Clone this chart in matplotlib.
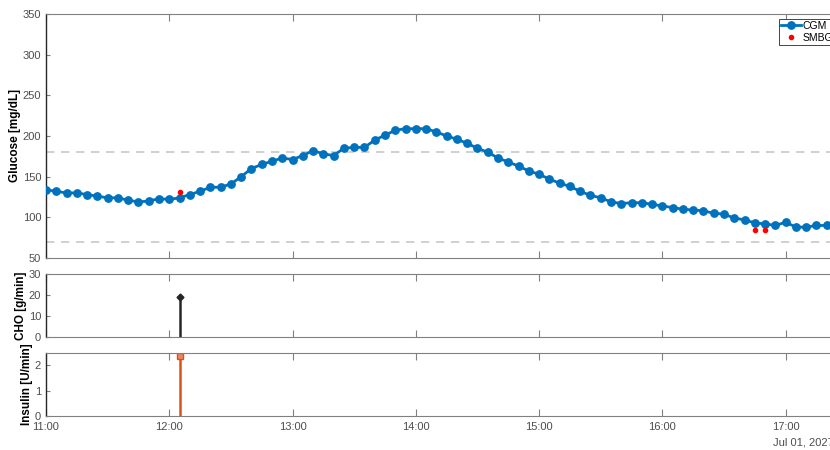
#!/usr/bin/env python3
"""Glucose / CHO / insulin timeline for a single day (CGM every 5 min)."""

import matplotlib
matplotlib.use("Agg")
import matplotlib.pyplot as plt
import matplotlib.dates as mdates
import pandas as pd

plt.rcParams.update({
    "font.family": ["Liberation Sans", "DejaVu Sans"],
    "font.size": 8,
    "axes.linewidth": 0.8,
    "xtick.direction": "in",
    "ytick.direction": "in",
})

# CGM readings, 5-minute grid starting 11:00
cgm_mgdl = [
    134, 132, 130, 130, 128, 126, 124, 124, 121, 119, 120, 123,
    122, 124, 128, 132, 137, 137, 141, 150, 160, 165, 169, 173,
    171, 176, 182, 178, 176, 185, 186, 186, 195, 201, 207, 209,
    209, 209, 205, 200, 196, 191, 185, 180, 173, 168, 163, 157,
    153, 147, 142, 138, 132, 127, 124, 119, 117, 118, 118, 116,
    114, 112, 110, 109, 108, 105, 104, 99, 97, 93, 92, 90,
    94, 88, 88, 90, 90, 90,
]
cgm_time = pd.date_range("2027-07-01 11:00", periods=len(cgm_mgdl), freq="5min")

# fingerstick checks
smbg_time = pd.to_datetime(["2027-07-01 12:05", "2027-07-01 16:45", "2027-07-01 16:50"])
smbg_mgdl = [131, 84, 84]

# meal and bolus
cho_time = pd.to_datetime(["2027-07-01 12:05"])
cho_gmin = [19]
ins_time = pd.to_datetime(["2027-07-01 12:05"])
ins_umin = [2.37]

hypo_thr, hyper_thr = 70, 180
t_start = pd.Timestamp("2027-07-01 11:00")
t_end = pd.Timestamp("2027-07-01 17:25")

W, H = 830, 450
LEFT, RIGHT = 46, 837
fig = plt.figure(figsize=(W / 100, H / 100), dpi=100)


def px_axes(top, bottom):
    return fig.add_axes([LEFT / W, 1 - bottom / H, (RIGHT - LEFT) / W, (bottom - top) / H])


def xfrac(px):
    return (px - LEFT) / (RIGHT - LEFT)


ax_g = px_axes(14, 258)
ax_c = px_axes(274.3, 337.3)
ax_i = px_axes(353.3, 416)

blue = "#0072BD"
orange = "#D95319"
dark = "#262626"

ax_g.axhline(hyper_thr, color="#c8c8c8", linestyle=(0, (5, 4)), linewidth=1.2, zorder=1)
ax_g.axhline(hypo_thr, color="#c8c8c8", linestyle=(0, (5, 4)), linewidth=1.2, zorder=1)
ax_g.plot(cgm_time, cgm_mgdl, color=blue, linewidth=2.0, marker="o", markersize=5.3,
          label="CGM", zorder=3)
ax_g.plot(smbg_time, smbg_mgdl, linestyle="none", marker="o", color="red", markersize=3.0,
          label="SMBG", zorder=4)
ax_g.set_ylim(50, 350)
ax_g.set_yticks(range(50, 351, 50))
ax_g.set_ylabel("Glucose [mg/dL]", fontweight="bold", fontsize=8.5)
ax_g.yaxis.set_label_coords(xfrac(21), 0.5)
leg = ax_g.legend(loc="upper left", bbox_to_anchor=(xfrac(779), 1 - 5 / 244), fontsize=7.5,
                  frameon=True, fancybox=False, edgecolor="#262626", framealpha=1,
                  borderpad=0.2, handlelength=1.9, handletextpad=0.2, labelspacing=0.15,
                  borderaxespad=0)
leg.get_frame().set_linewidth(0.6)

ml, sl, bl = ax_c.stem(cho_time, cho_gmin, basefmt=" ")
plt.setp(sl, color=dark, linewidth=1.8)
plt.setp(ml, color=dark, marker="D", markersize=3.5)
ax_c.set_ylim(0, 30)
ax_c.set_yticks([0, 10, 20, 30])
ax_c.set_ylabel("CHO [g/min]", fontweight="bold", fontsize=8.5)
ax_c.yaxis.set_label_coords(xfrac(27), 0.5)

ml, sl, bl = ax_i.stem(ins_time, ins_umin, basefmt=" ")
plt.setp(sl, color=orange, linewidth=1.8)
plt.setp(ml, color=orange, marker="s", markersize=4, markerfacecolor="#e8866a")
ax_i.set_ylim(0, 2.46)
ax_i.set_yticks([0, 1, 2])
ax_i.set_ylabel("Insulin [U/min]", fontweight="bold", fontsize=8.5)
ax_i.yaxis.set_label_coords(xfrac(33), 0.5)

for ax in (ax_g, ax_c, ax_i):
    ax.set_xlim(t_start, t_end)
    ax.xaxis.set_major_locator(mdates.HourLocator())
    ax.xaxis.set_major_formatter(mdates.DateFormatter("%H:%M"))
    ax.tick_params(axis="both", which="both", top=True, right=True, colors="#808080",
                   labelcolor="#4d4d4d", length=5, width=0.8)
    ax.tick_params(axis="y", length=3)
    for side in ("top", "bottom", "right"):
        ax.spines[side].set_color("#808080")
    ax.spines["left"].set_color(dark)
    ax.spines["left"].set_linewidth(1.0)

ax_g.tick_params(labelbottom=False)
ax_c.tick_params(labelbottom=False)
ax_i.tick_params(axis="x", pad=4)

# date stamp under the last hour label
ax_i.text(xfrac(773), -0.42, "Jul 01, 2027", transform=ax_i.transAxes, ha="left",
          va="center", fontsize=8, color="#4d4d4d")

fig.savefig("out.png", dpi=100)
